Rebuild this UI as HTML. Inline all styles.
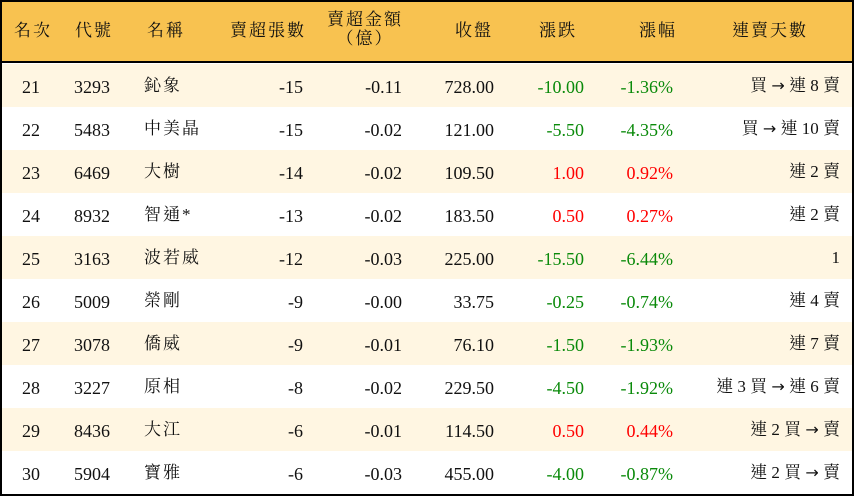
<!DOCTYPE html>
<html><head><meta charset="utf-8"><style>
*{margin:0;padding:0;box-sizing:border-box}
body{width:854px;height:496px;background:#fff;font-family:"Liberation Serif","Noto Serif CJK TC","Noto Serif CJK SC",serif;color:#111;font-size:18px;overflow:hidden}
#t{position:absolute;left:0;top:0;width:854px;height:496px;border:2px solid #000}
.h{position:absolute;left:0;top:0;width:850px;height:61px;background:#F8C250;border-bottom:2px solid #000}
.r{position:absolute;left:0;width:850px;height:43px}
.c{position:absolute;white-space:nowrap;line-height:1}
.g{color:#0a8a0a}.d{color:#f00}
.hc{position:absolute;white-space:nowrap;text-align:center;transform:translateX(-50%);font-size:17px;letter-spacing:2px;line-height:1.1}
</style></head><body><div id="t">
<div class="h">
<div class="hc" style="left:31px;top:20px">名次</div>
<div class="hc" style="left:92px;top:20px">代號</div>
<div class="hc" style="left:164px;top:20px">名稱</div>
<div class="hc" style="left:266px;top:20px">賣超張數</div>
<div class="hc" style="left:363px;top:9px">賣超金額<br>（億）</div>
<div class="hc" style="left:472px;top:20px">收盤</div>
<div class="hc" style="left:556px;top:20px">漲跌</div>
<div class="hc" style="left:656px;top:20px">漲幅</div>
<div class="hc" style="left:768px;top:20px">連賣天數</div>
</div>
<div id="rows"></div>
</div>
<script>
var d=[
["21","3293","鈊象","-15","-0.11","728.00","-10.00","-1.36%","買 → 連 8 賣"],
["22","5483","中美晶","-15","-0.02","121.00","-5.50","-4.35%","買 → 連 10 賣"],
["23","6469","大樹","-14","-0.02","109.50","1.00","0.92%","連 2 賣"],
["24","8932","智通*","-13","-0.02","183.50","0.50","0.27%","連 2 賣"],
["25","3163","波若威","-12","-0.03","225.00","-15.50","-6.44%","1"],
["26","5009","榮剛","-9","-0.00","33.75","-0.25","-0.74%","連 4 賣"],
["27","3078","僑威","-9","-0.01","76.10","-1.50","-1.93%","連 7 賣"],
["28","3227","原相","-8","-0.02","229.50","-4.50","-1.92%","連 3 買 → 連 6 賣"],
["29","8436","大江","-6","-0.01","114.50","0.50","0.44%","連 2 買 → 賣"],
["30","5904","寶雅","-6","-0.03","455.00","-4.00","-0.87%","連 2 買 → 賣"]];
var h="";
d.forEach(function(r,i){
var top=62+i*43, bg=i%2==0?"#FFF6E2":"#fff";
var cl=r[6][0]=="-"?"g":"d";
var last=r[8].replace(/→/g,'<span style="font-family:\'DejaVu Sans\';font-size:16px">→</span>');
h+='<div class="r" style="top:'+top+'px;background:'+bg+'">';
h+='<div class="c" style="left:20px;top:14px">'+r[0]+'</div>';
h+='<div class="c" style="left:72px;top:14px">'+r[1]+'</div>';
h+='<div class="c" style="left:142px;top:13px;font-size:17px;letter-spacing:2px">'+r[2]+'</div>';
h+='<div class="c" style="right:549px;top:14px">'+r[3]+'</div>';
h+='<div class="c" style="right:450px;top:14px">'+r[4]+'</div>';
h+='<div class="c" style="right:358px;top:14px">'+r[5]+'</div>';
h+='<div class="c '+cl+'" style="right:268px;top:14px">'+r[6]+'</div>';
h+='<div class="c '+cl+'" style="right:179px;top:14px">'+r[7]+'</div>';
h+='<div class="c" style="right:12px;top:13px;font-size:17px">'+last+'</div>';
h+='</div>';});
document.getElementById("rows").innerHTML=h;
</script>
</body></html>
